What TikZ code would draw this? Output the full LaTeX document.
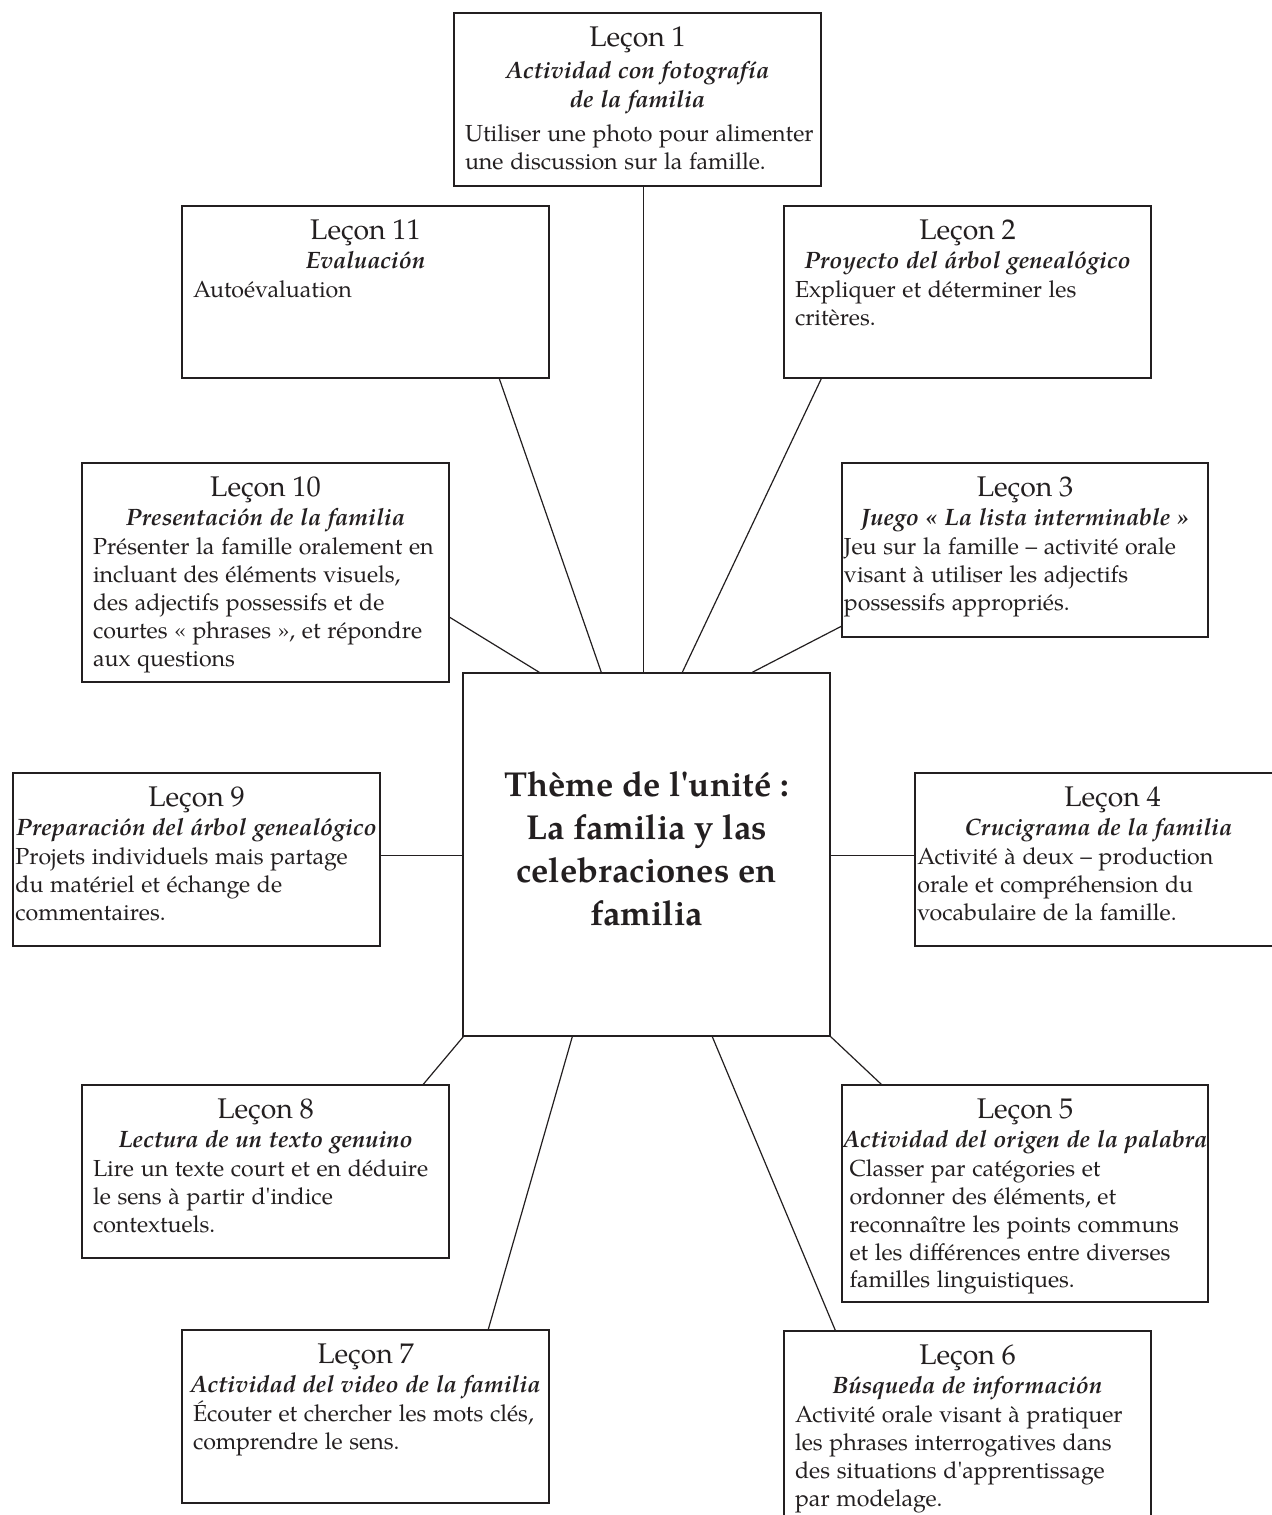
\documentclass[tikz,border=0pt]{standalone}
\usepackage{fontspec}
\setmainfont{TeX Gyre Pagella}
\usetikzlibrary{calc,fit}
\definecolor{ink}{RGB}{35,31,32}
\newcommand\Ttl{\parindent=0pt\leftskip=-10pt plus 1fil\relax\rightskip=-10pt plus 1fil\relax\parfillskip=0pt\relax\fontsize{14.2pt}{16pt}\selectfont\mdseries\upshape}
\newcommand\Sub{\parindent=0pt\leftskip=-12pt plus 1fil\relax\rightskip=-12pt plus 1fil\relax\parfillskip=0pt\relax\fontsize{11.85pt}{14.5pt}\selectfont\bfseries\itshape}
\newcommand\Bod{\parindent=0pt\leftskip=0pt\relax\rightskip=-14pt plus 1fil\relax\parfillskip=0pt plus 1fil\relax\fontsize{11.6pt}{13.9pt}\selectfont\mdseries\upshape}
\newcommand\Ctr{\fontsize{17.3pt}{21.5pt}\selectfont\bfseries}
\newcommand\ap{\textquotesingle}
% optional #1: left shift of the body text
\newcommand\lecon[4][0pt]{{\Ttl #2\par}{\Sub #3\par}\vspace{0.8pt}{\Bod\leftskip=#1\relax #4\par}}
\begin{document}
\begin{tikzpicture}[x=0.5pt,y=-0.5pt,
  boxnode/.style={draw=ink, line width=0.7pt, inner sep=0pt, rectangle},
  txt/.style={anchor=north, inner sep=0pt, text width=172.5pt, text=ink},
  link/.style={draw=ink, line width=0.6pt}]
\useasboundingbox (0,0) rectangle (1272,1515);
\clip (0,0) rectangle (1272,1515);
\fill[white] (0,0) rectangle (1272,1515);

% boxes
\node[boxnode, fit={(454,13) (821,186)}] (l1) {};
\node[boxnode, fit={(182,206) (549,378)}] (l11) {};
\node[boxnode, fit={(784,206) (1151,378)}] (l2) {};
\node[boxnode, fit={(82,463) (449,682)}] (l10) {};
\node[boxnode, fit={(842,463) (1208,637)}] (l3) {};
\node[boxnode, fit={(13,773) (380,946)}] (l9) {};
\node[boxnode, fit={(915,773) (1282,946)}] (l4) {};
\node[boxnode, fit={(82,1085) (449,1258)}] (l8) {};
\node[boxnode, fit={(842,1085) (1208,1302)}] (l5) {};
\node[boxnode, fit={(182,1330) (549,1503)}] (l7) {};
\node[boxnode, fit={(784,1331) (1151,1540)}] (l6) {};
\node[boxnode, fit={(463,673) (830,1036)}] (c) {};
\node[align=center, font=\Ctr, text=ink, inner sep=0pt] (ct) at ($(c.center)+(0,-6)$)
  {Thème de l\ap unité :\\ La familia y las\\ celebraciones en\\ familia};

% connectors
\draw[link] ($(l1.south west)+(190,0)$) -- ($(c.north west)+(181,0)$);
\draw[link] ($(l11.south west)+(318,0)$) -- ($(c.north west)+(139,0)$);
\draw[link] ($(l2.south west)+(38,0)$) -- ($(c.north west)+(220,0)$);
\draw[link] ($(l10.north east)+(0,155)$) -- ($(c.north west)+(77,0)$);
\draw[link] ($(l3.north west)+(0,164)$) -- ($(c.north west)+(290,0)$);
\draw[link] ($(l9.north east)+(0,83)$) -- ($(c.north west)+(0,183)$);
\draw[link] ($(c.north east)+(0,183)$) -- ($(l4.north west)+(0,83)$);
\draw[link] ($(c.south west)+(1,0)$) -- ($(l8.north west)+(342,0)$);
\draw[link] (c.south east) -- ($(l5.north west)+(40,0)$);
\draw[link] ($(c.south west)+(110,0)$) -- ($(l7.north west)+(307,0)$);
\draw[link] ($(c.south west)+(250,0)$) -- ($(l6.north west)+(52,0)$);

% texts
\node[txt] (t1) at ($(l1.north)+(0,14)$) {{\Ttl Leçon 1\par}\vspace{1.5pt}{\Sub Actividad con fotografía\par de la familia\par}\vspace{3.3pt}{\Bod Utiliser une photo pour alimenter\\ une discussion sur la famille.\par}};
\node[txt] (t2) at ($(l2.north)+(0,14)$) {\lecon{Leçon 2}{Proyecto del árbol genealógico}{Expliquer et déterminer les\\ critères.}};
\node[txt] (t3) at ($(l3.north)+(0,14)$) {\lecon[-4.3pt]{Leçon 3}{Juego «~La lista interminable~»}{Jeu sur la famille – activité orale\\ visant à utiliser les adjectifs\\ possessifs appropriés.}};
\node[txt] (t4) at ($(l4.north)+(0,14)$) {{\Ttl\leftskip=4pt plus 1fil\relax Leçon 4\par}{\Sub Crucigrama de la familia\par}\vspace{0.8pt}{\Bod\leftskip=-4.3pt\relax Activité à deux – production\\ orale et compréhension du\\ vocabulaire de la famille.\par}};
\node[txt] (t5) at ($(l5.north)+(0,14)$) {\lecon[-1.5pt]{Leçon 5}{Actividad del origen de la palabra}{Classer par catégories et\\ ordonner des éléments, et\\ reconnaître les points communs\\ et les différences entre diverses\\ familles linguistiques.}};
\node[txt] (t6) at ($(l6.north)+(0,14)$) {\lecon{Leçon 6}{Búsqueda de información}{Activité orale visant à pratiquer\\ les phrases interrogatives dans\\ des situations d\ap apprentissage\\ par modelage.}};
\node[txt] (t7) at ($(l7.north)+(0,14)$) {\lecon{Leçon 7}{Actividad del video de la familia}{Écouter et chercher les mots clés,\\ comprendre le sens.}};
\node[txt] (t8) at ($(l8.north)+(0,14)$) {\lecon{Leçon 8}{Lectura de un texto genuino}{Lire un texte court et en déduire\\ le sens à partir d\ap indice\\ contextuels.}};
\node[txt] (t9) at ($(l9.north)+(0,14)$) {\lecon[-4.3pt]{Leçon 9}{Preparación del árbol genealógico}{Projets individuels mais partage\\ du matériel et échange de\\ commentaires.}};
\node[txt] (t10) at ($(l10.north)+(0,14)$) {\lecon{Leçon 10}{Presentación de la familia}{Présenter la famille oralement en\\ incluant des éléments visuels,\\ des adjectifs possessifs et de\\ courtes «~phrases~», et répondre\\ aux questions}};
\node[txt] (t11) at ($(l11.north)+(0,14)$) {\lecon{Leçon 11}{Evaluación}{Autoévaluation}};
\end{tikzpicture}
\end{document}
